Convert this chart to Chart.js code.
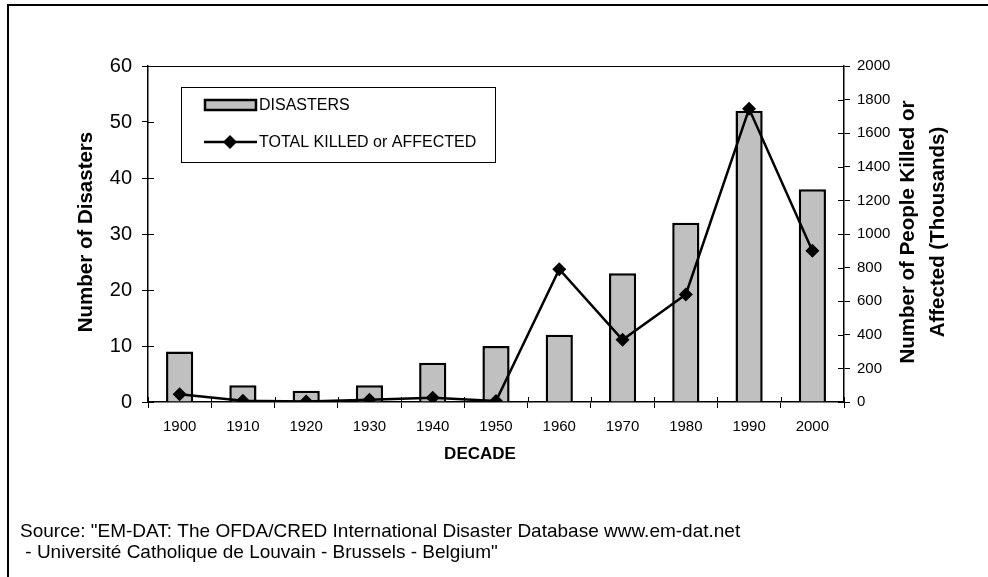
<!DOCTYPE html>
<html>
<head>
<meta charset="utf-8">
<script src="https://cdn.jsdelivr.net/npm/chart.js@4.4.1/dist/chart.umd.min.js"></script>
<style>
  body { margin: 0; background: #fff; }
  #wrap { width: 988px; height: 577px; }
</style>
</head>
<body>
<div id="wrap"><canvas id="grafico" width="988" height="577"></canvas></div>
<script>
const decadas = ['1900', '1910', '1920', '1930', '1940', '1950', '1960', '1970', '1980', '1990', '2000'];
const desastres = [9, 3, 2, 3, 7, 10, 12, 23, 32, 52, 38];
const afectados = [46, 8, 3, 14, 26, 6, 790, 370, 640, 1745, 900];
const ticksIzq = [0, 10, 20, 30, 40, 50, 60];
const ticksDer = [0, 200, 400, 600, 800, 1000, 1200, 1400, 1600, 1800, 2000];

const FUENTE = '"Liberation Sans", Arial, sans-serif';

const extras = {
  id: 'extras',
  beforeDraw(chart) {
    const ctx = chart.ctx;
    ctx.save();
    ctx.fillStyle = '#fff';
    ctx.fillRect(0, 0, chart.width, chart.height);
    ctx.restore();
  },
  afterDraw(chart) {
    const ctx = chart.ctx;
    const a = chart.chartArea;
    const x = chart.scales.x, yl = chart.scales.y, yr = chart.scales.y2;
    ctx.save();
    ctx.strokeStyle = '#000';

    // marco exterior
    ctx.lineWidth = 2;
    ctx.beginPath();
    ctx.moveTo(8, chart.height);
    ctx.lineTo(8, 5);
    ctx.lineTo(chart.width, 5);
    ctx.stroke();

    // borde superior del area
    ctx.lineWidth = 1.2;
    ctx.beginPath();
    ctx.moveTo(a.left, a.top + 0.5);
    ctx.lineTo(a.right, a.top + 0.5);
    ctx.stroke();

    // marcas hacia adentro
    ctx.lineWidth = 1;
    ctx.beginPath();
    yl.ticks.forEach((t, i) => {
      const py = Math.round(yl.getPixelForTick(i)) + 0.5;
      ctx.moveTo(a.left, py); ctx.lineTo(a.left + 6, py);
    });
    yr.ticks.forEach((t, i) => {
      const py = Math.round(yr.getPixelForTick(i)) + 0.5;
      ctx.moveTo(a.right, py); ctx.lineTo(a.right - 6, py);
    });
    for (let i = 0; i <= decadas.length; i++) {
      const px = Math.round(x.getPixelForValue(i - 0.5)) + 0.5;
      ctx.moveTo(px, a.bottom); ctx.lineTo(px, a.bottom - 5);
    }
    ctx.stroke();

    // leyenda
    const barras = chart.data.datasets[0], linea = chart.data.datasets[1];
    ctx.lineWidth = 1;
    ctx.strokeRect(181.5, 87.5, 314, 75);
    ctx.fillStyle = barras.backgroundColor;
    ctx.fillRect(205, 100, 51, 10);
    ctx.lineWidth = 2.5;
    ctx.strokeRect(205, 100, 51, 10);
    ctx.beginPath();
    ctx.moveTo(204, 142); ctx.lineTo(257, 142);
    ctx.stroke();
    ctx.fillStyle = '#000';
    ctx.beginPath();
    ctx.moveTo(230, 135); ctx.lineTo(237, 142); ctx.lineTo(230, 149); ctx.lineTo(223, 142);
    ctx.closePath(); ctx.fill();
    ctx.font = '16px ' + FUENTE;
    ctx.textBaseline = 'middle';
    ctx.textAlign = 'left';
    ctx.fillText(barras.label, 259, 106);
    ctx.fillText(linea.label, 259, 143);

    // titulos de ejes
    ctx.font = 'bold 17px ' + FUENTE;
    ctx.textAlign = 'center';
    ctx.fillText('DECADE', 480, 454);
    ctx.font = 'bold 20.5px ' + FUENTE;
    ctx.save();
    ctx.translate(86, 232);
    ctx.rotate(-Math.PI / 2);
    ctx.fillText('Number of Disasters', 0, 0);
    ctx.restore();
    ctx.save();
    ctx.translate(908, 232);
    ctx.rotate(-Math.PI / 2);
    ctx.fillText('Number of People Killed or', 0, 0);
    ctx.fillText('Affected (Thousands)', 0, 30);
    ctx.restore();

    // fuente
    ctx.font = '19px ' + FUENTE;
    ctx.textAlign = 'left';
    ctx.fillText('Source: "EM-DAT: The OFDA/CRED International Disaster Database www.em-dat.net', 20, 532);
    ctx.fillText(' - Universit\u00e9 Catholique de Louvain - Brussels - Belgium"', 20, 553);
    ctx.restore();
  }
};

new Chart(document.getElementById('grafico'), {
  type: 'bar',
  data: {
    labels: decadas,
    datasets: [{
      label: 'DISASTERS',
      data: desastres,
      yAxisID: 'y',
      backgroundColor: '#c0c0c0',
      borderColor: '#000',
      borderWidth: 2.5,
      categoryPercentage: 1,
      barPercentage: 0.43,
      order: 1
    }, {
      type: 'line',
      label: 'TOTAL KILLED or AFFECTED',
      data: afectados,
      yAxisID: 'y2',
      borderColor: '#000',
      backgroundColor: '#000',
      borderWidth: 2.5,
      tension: 0,
      pointStyle: 'rectRot',
      pointRadius: 7,
      pointBorderWidth: 0,
      order: 0
    }]
  },
  options: {
    responsive: false,
    animation: false,
    layout: { padding: { top: 66, left: 0, right: 0, bottom: 0 } },
    plugins: { legend: { display: false }, tooltip: { enabled: false } },
    scales: {
      x: {
        offset: true,
        afterFit(s) { s.height = 175; },
        grid: { offset: true, drawOnChartArea: false, tickLength: 6, color: '#000', lineWidth: 1 },
        border: { color: '#000', width: 1.5 },
        ticks: { color: '#000', font: { family: FUENTE, size: 15 }, padding: 10, maxRotation: 0 }
      },
      y: {
        position: 'left',
        min: 0, max: 60,
        afterFit(s) { s.width = 148; },
        afterBuildTicks(s) { s.ticks = ticksIzq.map(v => ({ value: v })); },
        grid: { drawOnChartArea: false, tickLength: 6, color: '#000', lineWidth: 1 },
        border: { color: '#000', width: 1.5 },
        ticks: { color: '#000', font: { family: FUENTE, size: 20 }, padding: 10 }
      },
      y2: {
        position: 'right',
        min: 0, max: 2000,
        afterFit(s) { s.width = 144; },
        afterBuildTicks(s) { s.ticks = ticksDer.map(v => ({ value: v })); },
        grid: { drawOnChartArea: false, tickLength: 6, color: '#000', lineWidth: 1 },
        border: { color: '#000', width: 1.5 },
        ticks: { color: '#000', font: { family: FUENTE, size: 15 }, padding: 7, callback: v => String(v) }
      }
    }
  },
  plugins: [extras]
});
</script>
</body>
</html>
